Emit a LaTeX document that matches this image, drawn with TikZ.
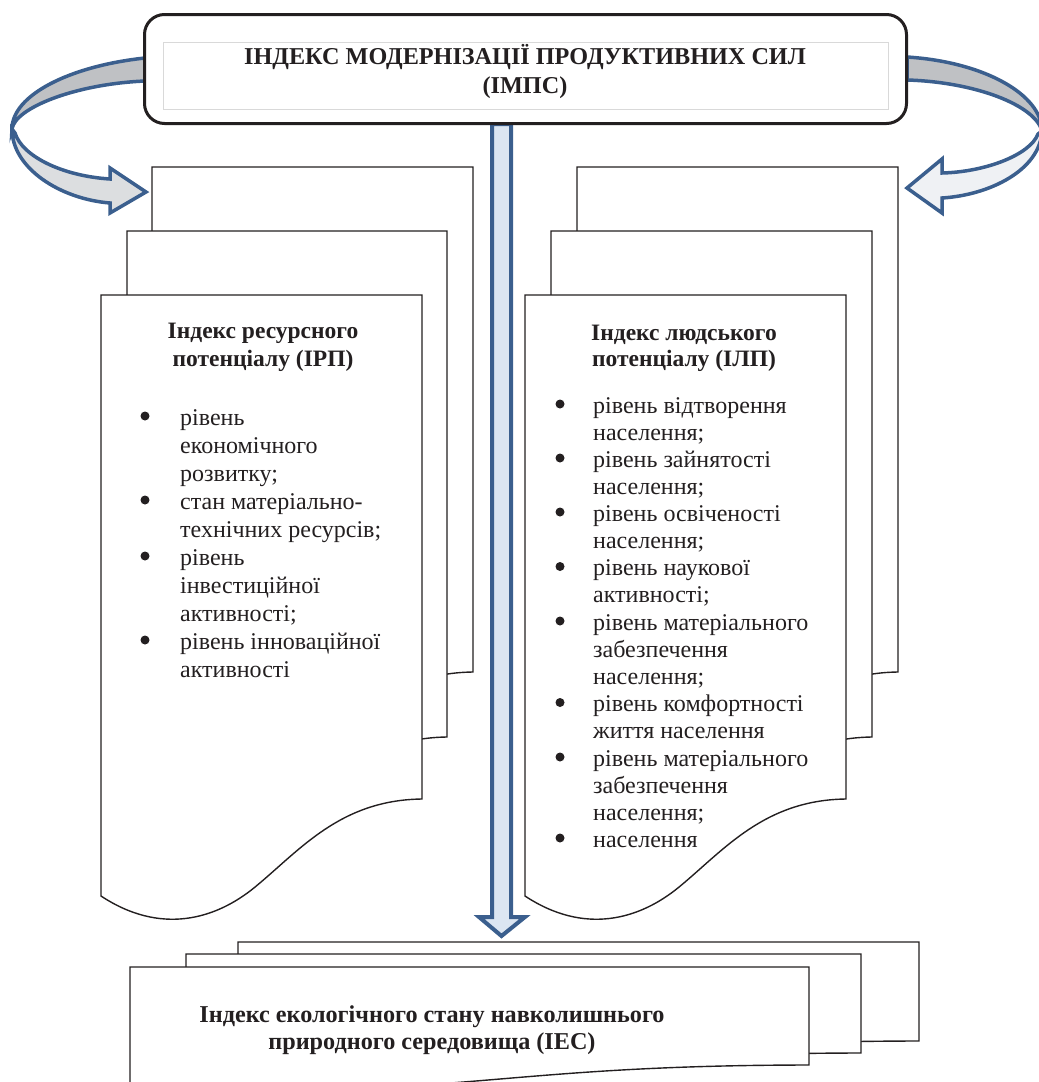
\documentclass[tikz,border=0pt]{standalone}
\usepackage{fontspec}
\setmainfont{Liberation Serif}
\definecolor{inkc}{HTML}{231F20}
\definecolor{bluel}{HTML}{3B5F8E}
\definecolor{bluef}{HTML}{DCE6F2}
\definecolor{upg}{HTML}{BFC1C4}
\definecolor{lowl}{HTML}{DCDEE0}
\definecolor{lowr}{HTML}{EFF1F4}
\tikzset{
  docline/.style={draw=inkc, fill=white, line width=1.4pt, line join=miter},
  carrow/.style={draw=bluel, line width=3.5pt, line join=miter},
  barrow/.style={draw=bluel, fill=bluef, line width=4pt, line join=miter},
  ttl/.style={font=\bfseries\fontsize{24.2}{29}\selectfont, text=inkc, inner sep=0pt, anchor=base},
  stl/.style={font=\bfseries\fontsize{23.5}{28}\selectfont, text=inkc, inner sep=0pt, anchor=base},
  itm/.style={font=\fontsize{24}{28}\selectfont, text=inkc, inner sep=0pt, anchor=base west},
}
\newcommand{\docpage}[5]{%
  \filldraw[docline] (#1,#2) -- ({#1+#3},#2) -- ({#1+#3},{#2+#4})
   .. controls ({#1+0.745*#3},{#2+#4+0.01*#5}) and ({#1+0.62*#3},{#2+#4+0.51*#5}) .. ({#1+0.48*#3},{#2+#4+0.88*#5})
   .. controls ({#1+0.355*#3},{#2+#4+1.21*#5}) and ({#1+0.184*#3},{#2+#4+1.36*#5}) .. (#1,{#2+#4+0.97*#5}) -- cycle;}
\newcommand{\lline}[3]{\node[itm] (#1) at (180,#2) {#3};}
\newcommand{\rline}[3]{\node[itm] (#1) at (593,#2) {#3};}
\newcommand{\bull}[2]{\fill[inkc] (#1,{#2-9}) circle (4.5pt);}
\begin{document}
\begin{tikzpicture}[x=1pt,y=-1pt]
\useasboundingbox (0,0) rectangle (1039,1082);
\clip (0,0) rectangle (1039,1082);
% left documents
\docpage{152}{167}{321}{505}{100}
\docpage{127}{231}{320}{506}{100}
\docpage{101}{295}{321}{504}{100}
% right documents
\docpage{577}{167}{321}{505}{100}
\docpage{551}{231}{321}{506}{100}
\docpage{525}{295}{321}{504}{100}
% bottom documents
\docpage{238}{942}{681}{99}{20}
\docpage{186}{954}{675}{99}{20}
\docpage{130}{967}{679}{98}{20}
% central block arrow
\filldraw[barrow] (492,124) -- (492,917) -- (479,917) -- (501.5,936) -- (525,917) -- (511,917) -- (511,124) -- cycle;
% left curved arrow
\filldraw[carrow, fill=lowl] (12,129) .. controls (12,168) and (60,199) .. (110,203) -- (110,213) -- (146,192) -- (110,168) -- (110,179) .. controls (62,176) and (22,156) .. (15,133) -- cycle;
\filldraw[carrow, fill=upg] (145,58) .. controls (70,66) and (12,95) .. (12,129) .. controls (15,108) and (75,84) .. (145,81) -- cycle;
% right curved arrow
\filldraw[carrow, fill=lowr] (1042,131) .. controls (1040,170) and (990,195) .. (942,198) -- (942,213) -- (907,188) -- (942,159) -- (942,173) .. controls (985,172) and (1030,155) .. (1038,134) -- cycle;
\filldraw[carrow, fill=upg] (907,57) .. controls (985,62) and (1042,95) .. (1042,131) .. controls (1035,105) and (975,82) .. (907,80) -- cycle;
% top box
\node[draw=inkc, fill=white, rounded corners=20pt, line width=3pt, minimum width=762pt, minimum height=109pt, inner sep=0pt] (top) at (525.5,69) {};
\draw[black!15, line width=0.8pt] (163,42) rectangle (888,109);
\node[ttl] (t1) at (525,64) {ІНДЕКС МОДЕРНІЗАЦІЇ ПРОДУКТИВНИХ СИЛ};
\node[ttl] (t2) at (525,93) {(ІМПС)};
% left texts
\node[stl] (lt1) at (263,338) {Індекс ресурсного};
\node[stl] (lt2) at (263,366) {потенціалу (ІРП)};
\lline{L0}{425}{рівень}
\lline{L1}{453}{економічного}
\lline{L2}{481}{розвитку;}
\lline{L3}{509}{стан матеріально-}
\lline{L4}{537}{технічних ресурсів;}
\lline{L5}{565}{рівень}
\lline{L6}{593}{інвестиційної}
\lline{L7}{621}{активності;}
\lline{L8}{649}{рівень інноваційної}
\lline{L9}{677}{активності}
\bull{145}{425}
\bull{145}{509}
\bull{145}{565}
\bull{145}{649}
% right texts
\node[stl] (rt1) at (684,340) {Індекс людського};
\node[stl] (rt2) at (684,366) {потенціалу (ІЛП)};
\rline{R0}{413}{рівень відтворення}
\rline{R1}{440}{населення;}
\rline{R2}{467}{рівень зайнятості}
\rline{R3}{494}{населення;}
\rline{R4}{521}{рівень освіченості}
\rline{R5}{548}{населення;}
\rline{R6}{575.5}{рівень наукової}
\rline{R7}{602.5}{активності;}
\rline{R8}{630}{рівень матеріального}
\rline{R9}{657}{забезпечення}
\rline{R10}{684}{населення;}
\rline{R11}{711.5}{рівень комфортності}
\rline{R12}{738.5}{життя населення}
\rline{R13}{766}{рівень матеріального}
\rline{R14}{793}{забезпечення}
\rline{R15}{820}{населення;}
\rline{R16}{847}{населення}
\bull{560}{413}
\bull{560}{467}
\bull{560}{521}
\bull{560}{575.5}
\bull{560}{630}
\bull{560}{711.5}
\bull{560}{766}
\bull{560}{847}
% bottom text
\node[ttl] (b1) at (432,1022) {Індекс екологічного стану навколишнього};
\node[ttl] (b2) at (432,1049) {природного середовища (ІЕС)};
\end{tikzpicture}
\end{document}
